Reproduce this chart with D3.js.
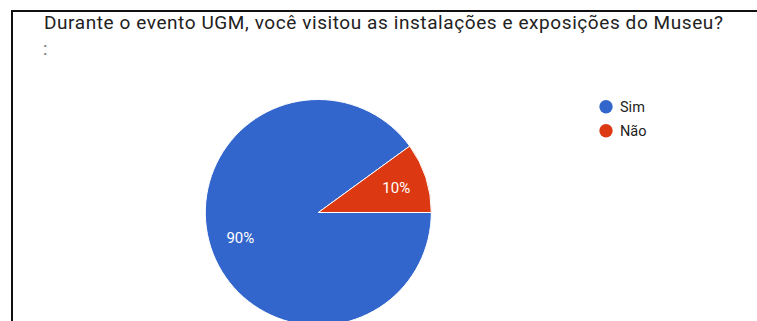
<!DOCTYPE html>
<html>
<head>
<meta charset="utf-8">
<script src="https://cdn.jsdelivr.net/npm/d3@7"></script>
<style>
  html, body { margin: 0; padding: 0; background: #fff; }
  svg { display: block; }
</style>
</head>
<body>
<svg id="chart" width="757" height="321"></svg>
<script>
const titleText = "Durante o evento UGM, você visitou as instalações e exposições do Museu?";
const subtitleText = ":";
const categories = ["Sim", "Não"];
const values = [90, 10];
const colors = ["#3366cc", "#dc3912"];

const svg = d3.select("#chart");
const W = 757, H = 321;

// frame lines
svg.append("line").attr("x1", 12).attr("x2", W).attr("y1", 11).attr("y2", 11)
  .attr("stroke", "#111").attr("stroke-width", 2);
svg.append("line").attr("x1", 12).attr("x2", 12).attr("y1", 10).attr("y2", H)
  .attr("stroke", "#111").attr("stroke-width", 2);

svg.append("text").attr("x", 44).attr("y", 29)
  .attr("font-family", "Roboto, sans-serif").attr("font-size", 19)
  .attr("letter-spacing", 0.58)
  .attr("fill", "#222").text(titleText);
svg.append("text").attr("x", 43).attr("y", 55)
  .attr("font-family", "Roboto, sans-serif").attr("font-size", 18)
  .attr("fill", "#777").text(subtitleText);

const data = categories.map((c, i) => ({ cat: c, value: values[i], color: colors[i] }));
const total = d3.sum(values);
const pie = d3.pie().value(d => d.value).sort(null)
  .startAngle(Math.PI / 2).endAngle(Math.PI / 2 + 2 * Math.PI);
const arcs = pie(data);
const r = 113;
const cx = 318.3, cy = 212.5;
const arc = d3.arc().innerRadius(0).outerRadius(r);
const labelArc = d3.arc().innerRadius(82).outerRadius(82);

const g = svg.append("g").attr("transform", `translate(${cx},${cy})`);
g.selectAll("path").data(arcs).join("path")
  .attr("d", arc).attr("fill", d => d.data.color)
  .attr("stroke", "#fff").attr("stroke-width", 1);
g.selectAll("text").data(arcs).join("text")
  .attr("transform", d => `translate(${labelArc.centroid(d)})`)
  .attr("text-anchor", "middle").attr("dy", "0.36em")
  .attr("font-family", "Roboto, sans-serif").attr("font-size", 15)
  .attr("fill", "#fff")
  .text(d => Math.round(d.data.value / total * 100) + "%");

const legend = svg.append("g");
const li = legend.selectAll("g").data(data).join("g")
  .attr("transform", (d, i) => `translate(606,${106.7 + i * 24})`);
li.append("circle").attr("r", 6.7).attr("fill", d => d.color);
li.append("text").attr("x", 14).attr("dy", "0.36em")
  .attr("font-family", "Roboto, sans-serif").attr("font-size", 14.5)
  .attr("fill", "#222").text(d => d.cat);
</script>
</body>
</html>
